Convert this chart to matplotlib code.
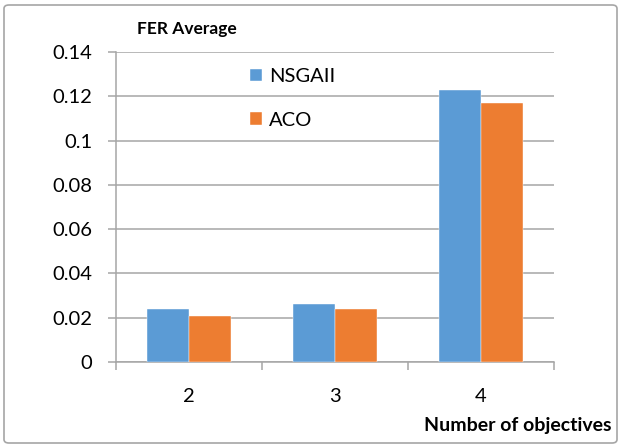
import matplotlib
matplotlib.use("Agg")
from matplotlib import pyplot as plt
from matplotlib.patches import FancyBboxPatch
import numpy as np

categories = ["2", "3", "4"]
nsgaii = [0.024, 0.026, 0.123]
aco = [0.021, 0.024, 0.117]
y_ticks = [0, 0.02, 0.04, 0.06, 0.08, 0.1, 0.12, 0.14]
y_labels = ["0", "0.02", "0.04", "0.06", "0.08", "0.1", "0.12", "0.14"]

blue = "#5B9BD5"
orange = "#ED7D31"
grid_gray = "#A6A6A6"

plt.rcParams["font.family"] = ["Lato", "DejaVu Sans"]

W, H = 620, 446
fig = plt.figure(figsize=(W / 100, H / 100), dpi=100)

# axes placed in pixel terms: left 116, right 554, top 52, bottom 362
ax = fig.add_axes([116 / W, (H - 362) / H, (554 - 116) / W, (362 - 52) / H])

x = np.arange(len(categories))
w = 0.288
ax.bar(x - w / 2, nsgaii, w, color=blue, edgecolor="white", linewidth=0.3, label="NSGAII", zorder=3)
ax.bar(x + w / 2, aco, w, color=orange, edgecolor="white", linewidth=0.3, label="ACO", zorder=3)

ax.set_xlim(-0.5, len(categories) - 0.5)
ax.set_ylim(0, 0.14)
ax.set_yticks(y_ticks)
ax.set_yticklabels(y_labels)
ax.yaxis.grid(True, color=grid_gray, linewidth=1.1, zorder=0)
ax.set_axisbelow(True)

ax.set_xticks(x)
ax.set_xticklabels(categories)
ax.set_xticks(np.arange(len(categories) + 1) - 0.5, minor=True)
ax.tick_params(axis="x", which="major", length=0, pad=19, labelsize=14.5)
ax.tick_params(axis="x", which="minor", length=6, width=1.1, color=grid_gray, direction="out")
ax.tick_params(axis="y", length=6, width=1.1, color=grid_gray, pad=11, labelsize=14.5)

for s in ["top", "right"]:
    ax.spines[s].set_visible(False)
for s in ["left", "bottom"]:
    ax.spines[s].set_color(grid_gray)
    ax.spines[s].set_linewidth(1.1)

leg = ax.legend(loc="upper left", bbox_to_anchor=(0.306, 0.948), frameon=False,
                fontsize=14.5, handlelength=0.6, handleheight=0.6,
                handletextpad=0.35, labelspacing=1.32, borderpad=0, borderaxespad=0)

fig.text(187 / W, 1 - 29 / H, "FER Average", ha="center", va="center",
         fontsize=12.5, fontweight="bold")
fig.text(518 / W, 1 - 426 / H, "Number of objectives", ha="center", va="center",
         fontsize=14, fontweight="bold")

frame = FancyBboxPatch((4 / W, 1 - 443 / H), 613 / W, 438 / H,
                       boxstyle="round,pad=0,rounding_size=0.008",
                       transform=fig.transFigure, fill=False,
                       edgecolor="#A6A6A6", linewidth=1.2)
fig.patches.append(frame)

fig.savefig("out.png", dpi=100)
